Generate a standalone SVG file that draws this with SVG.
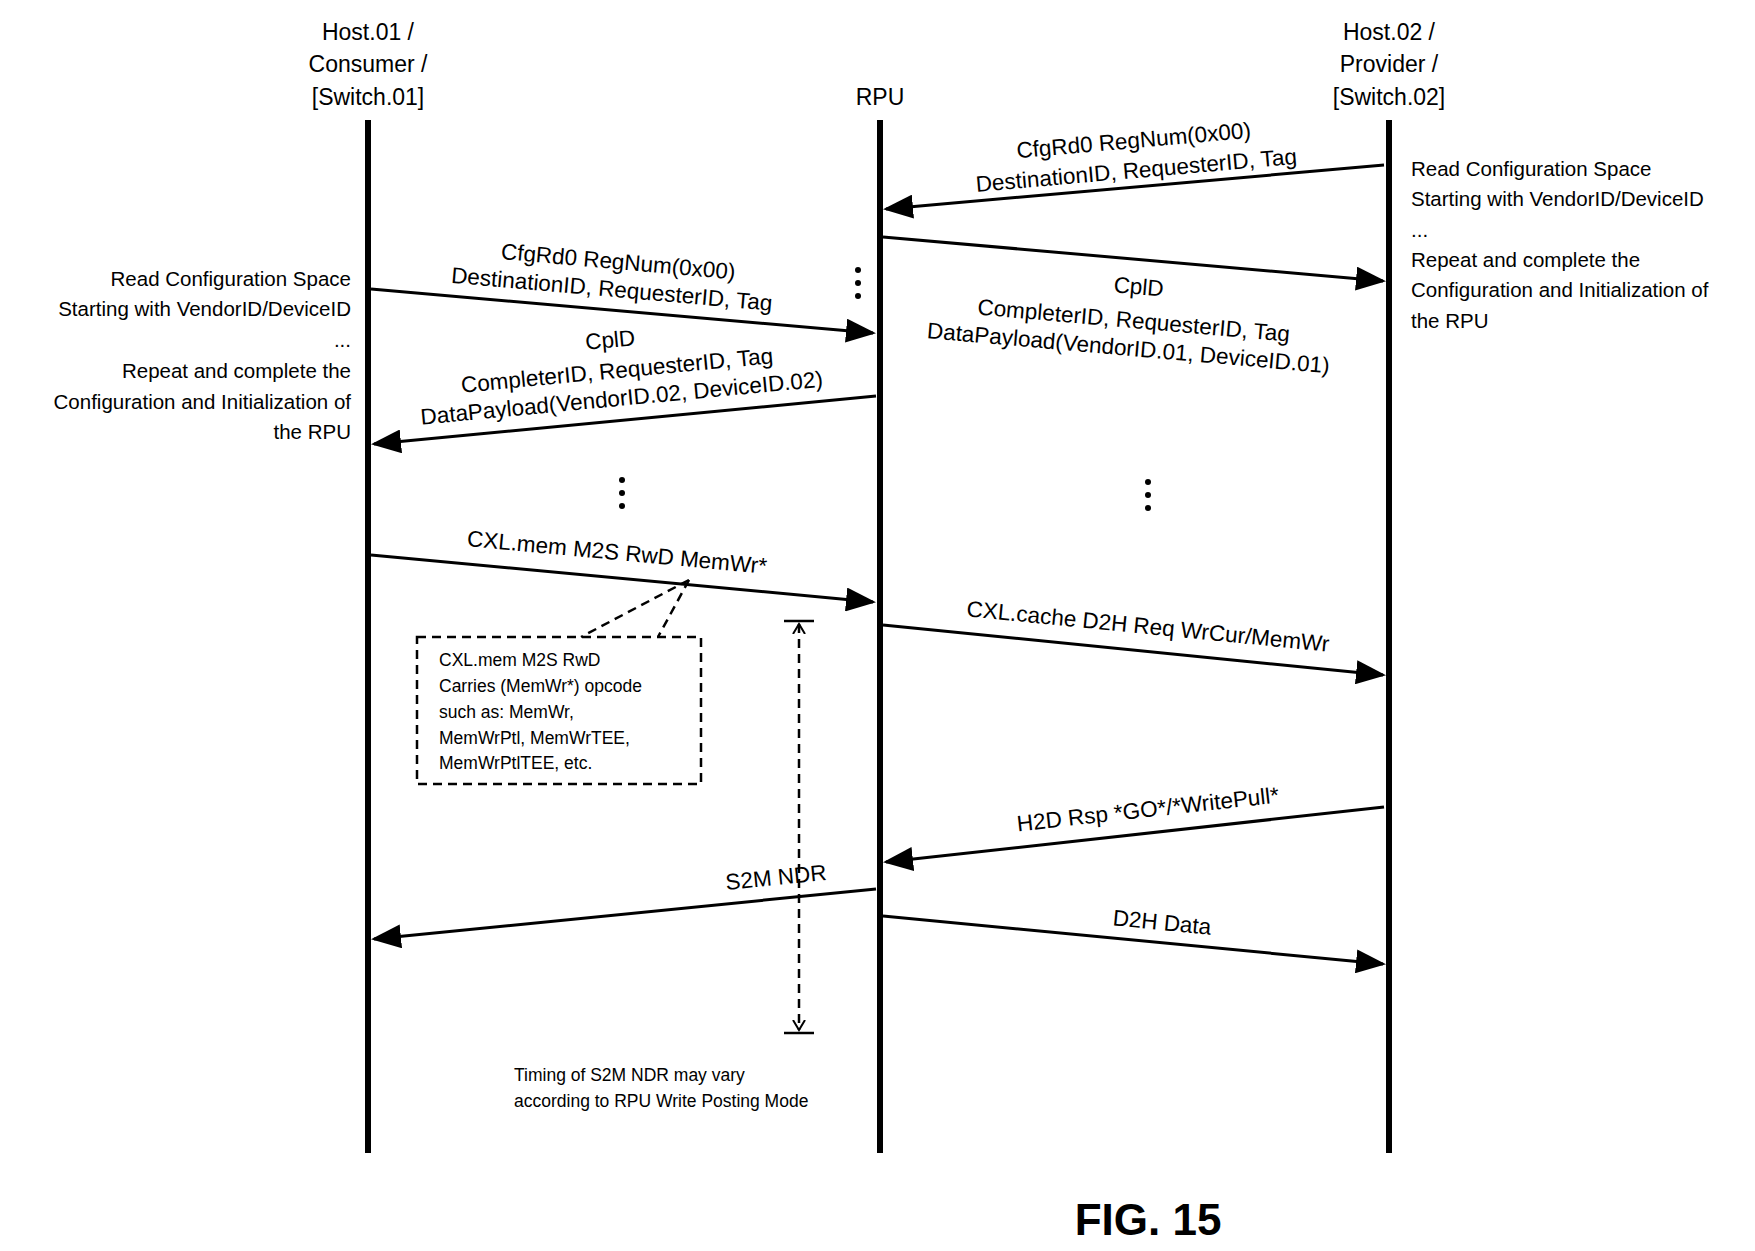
<svg xmlns="http://www.w3.org/2000/svg" width="1755" height="1251" viewBox="0 0 1755 1251">
<style>
text{font-family:"Liberation Sans",Arial,sans-serif;fill:#000}
.h{font-size:23px;text-anchor:middle}
.l{font-size:22.5px;text-anchor:middle}
.s{font-size:20.5px}
.b{font-size:17.5px}
.life{stroke:#000;stroke-width:6}
.msg{stroke:#000;stroke-width:3;fill:none;marker-end:url(#ah)}
.dash{stroke:#000;stroke-width:2.5;fill:none;stroke-dasharray:9,6}
</style>
<defs>
<marker id="ah" markerWidth="10" markerHeight="8" refX="9" refY="4" orient="auto" markerUnits="strokeWidth"><path d="M0,0 L10,4 L0,8 z" fill="#000"/></marker>
<marker id="oa" markerWidth="12" markerHeight="14" refX="10" refY="7" orient="auto-start-reverse" markerUnits="userSpaceOnUse"><path d="M0,1 L10,7 L0,13" fill="none" stroke="#000" stroke-width="2"/></marker>
</defs>
<g id="host01"><text class="h" x="368" y="40">Host.01 /</text><text class="h" x="368" y="72">Consumer /</text><text class="h" x="368" y="105">[Switch.01]</text><line class="life" x1="368" y1="120" x2="368" y2="1153"/></g>
<g id="rpu"><text class="h" x="880" y="105">RPU</text><line class="life" x1="880" y1="120" x2="880" y2="1153"/></g>
<g id="host02"><text class="h" x="1389" y="40">Host.02 /</text><text class="h" x="1389" y="72">Provider /</text><text class="h" x="1389" y="105">[Switch.02]</text><line class="life" x1="1389" y1="120" x2="1389" y2="1153"/></g>
<g id="connectors">
<line class="msg" x1="1384" y1="165" x2="886" y2="209"/>
<line class="msg" x1="883" y1="237" x2="1383" y2="281"/>
<line class="msg" x1="371" y1="289" x2="873" y2="333"/>
<line class="msg" x1="876" y1="396" x2="374" y2="444"/>
<line class="msg" x1="371" y1="555" x2="873" y2="602"/>
<line class="msg" x1="883" y1="625" x2="1383" y2="675"/>
<line class="msg" x1="1384" y1="807" x2="886" y2="862"/>
<line class="msg" x1="876" y1="889" x2="374" y2="939"/>
<line class="msg" x1="883" y1="916" x2="1383" y2="964"/>
<line class="dash" x1="689" y1="580" x2="581" y2="637"/>
<line class="dash" x1="689" y1="580" x2="658" y2="637"/>
<line class="dash" x1="799" y1="624" x2="799" y2="1030" marker-start="url(#oa)" marker-end="url(#oa)"/>
<line stroke="#000" stroke-width="2.5" x1="784" y1="621" x2="814" y2="621"/>
<line stroke="#000" stroke-width="2.5" x1="784" y1="1033" x2="814" y2="1033"/>
</g>
<g id="labels">
<g transform="rotate(-5 1135 156)"><text class="l" x="1135" y="148">CfgRd0 RegNum(0x00)</text><text class="l" x="1135" y="178">DestinationID, RequesterID, Tag</text></g>
<g transform="rotate(5 1133 318)"><text class="l" x="1136" y="294">CplD</text><text class="l" x="1134" y="328">CompleterID, RequesterID, Tag</text><text class="l" x="1131" y="356">DataPayload(VendorID.01, DeviceID.01)</text></g>
<g transform="rotate(5 615 276)"><text class="l" x="617" y="269">CfgRd0 RegNum(0x00)</text><text class="l" x="613" y="297">DestinationID, RequesterID, Tag</text></g>
<g transform="rotate(-5.4 617 370)"><text class="l" x="613" y="347">CplD</text><text class="l" x="617" y="378">CompleterID, RequesterID, Tag</text><text class="l" x="619" y="406">DataPayload(VendorID.02, DeviceID.02)</text></g>
<text class="l" x="617" y="560" transform="rotate(5.3 617 553)">CXL.mem M2S RwD MemWr*</text>
<text class="l" x="1148" y="634" transform="rotate(5.6 1148 627)">CXL.cache D2H Req WrCur/MemWr</text>
<text class="l" x="1148" y="817" transform="rotate(-6.3 1148 810)">H2D Rsp *GO*/*WritePull*</text>
<text class="l" x="776" y="885" transform="rotate(-5.7 776 878)">S2M NDR</text>
<text class="l" x="1162" y="930" transform="rotate(5.5 1162 923)">D2H Data</text>
</g>
<g id="left-note" text-anchor="end">
<text class="s" x="351" y="286">Read Configuration Space</text>
<text class="s" x="351" y="316">Starting with VendorID/DeviceID</text>
<text class="s" x="351" y="347">...</text>
<text class="s" x="351" y="378">Repeat and complete the</text>
<text class="s" x="351" y="409">Configuration and Initialization of</text>
<text class="s" x="351" y="439">the RPU</text>
</g>
<g id="right-note">
<text class="s" x="1411" y="176">Read Configuration Space</text>
<text class="s" x="1411" y="206">Starting with VendorID/DeviceID</text>
<text class="s" x="1411" y="237">...</text>
<text class="s" x="1411" y="267">Repeat and complete the</text>
<text class="s" x="1411" y="297">Configuration and Initialization of</text>
<text class="s" x="1411" y="328">the RPU</text>
</g>
<g id="dots" fill="#000">
<circle cx="858" cy="270" r="3"/><circle cx="858" cy="283" r="3"/><circle cx="858" cy="296" r="3"/>
<circle cx="622" cy="480" r="3"/><circle cx="622" cy="493" r="3"/><circle cx="622" cy="506" r="3"/>
<circle cx="1148" cy="482" r="3"/><circle cx="1148" cy="495" r="3"/><circle cx="1148" cy="508" r="3"/>
</g>
<g id="callout-box">
<rect class="dash" x="417" y="637" width="284" height="147"/>
<text class="b" x="439" y="666">CXL.mem M2S RwD</text>
<text class="b" x="439" y="692">Carries (MemWr*) opcode</text>
<text class="b" x="439" y="718">such as: MemWr,</text>
<text class="b" x="439" y="744">MemWrPtl, MemWrTEE,</text>
<text class="b" x="439" y="769">MemWrPtlTEE, etc.</text>
</g>
<g id="timing-note">
<text class="b" x="514" y="1081">Timing of S2M NDR may vary</text>
<text class="b" x="514" y="1107">according to RPU Write Posting Mode</text>
</g>
<text x="1148" y="1235" font-size="44" font-weight="bold" text-anchor="middle">FIG. 15</text>
</svg>
